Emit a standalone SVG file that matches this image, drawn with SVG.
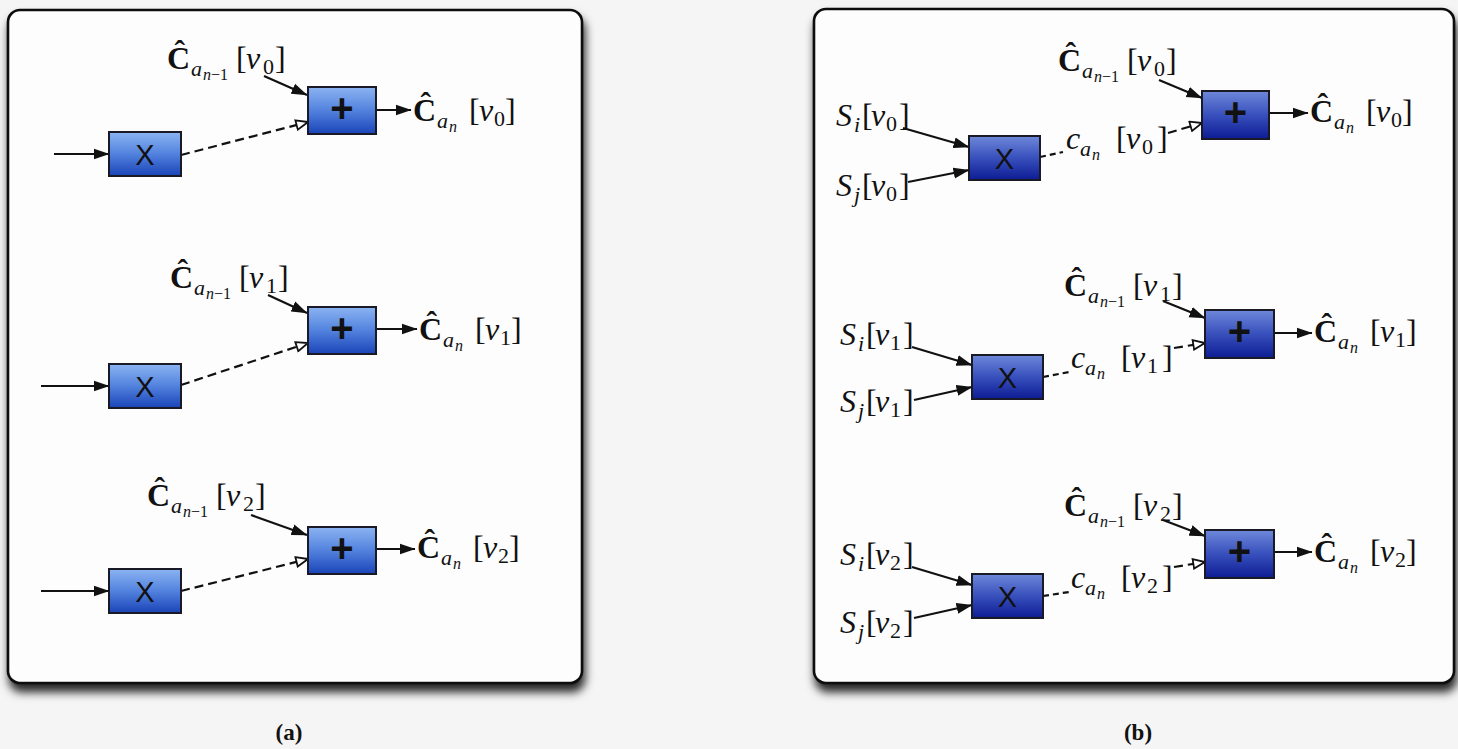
<svg xmlns="http://www.w3.org/2000/svg" width="1458" height="749" viewBox="0 0 1458 749">
<style>
.lbl{font-family:"Liberation Serif","DejaVu Serif",serif;font-size:32px;fill:#111}
.b{font-weight:bold}
.i{font-style:italic}
.s1{font-size:22px}
.s2{font-size:16px}
.panel{fill:#fdfdfd;stroke:#111;stroke-width:2.6}
.boxa{fill:url(#gA);stroke:#1a1a26;stroke-width:2}
.boxb{fill:url(#gB);stroke:#1a1a26;stroke-width:2}
.op{font-family:"Liberation Sans","DejaVu Sans",sans-serif;fill:#111;text-anchor:middle}
.x{font-size:29px}
.p{font-size:40px;font-weight:bold}
.sol{stroke:#111;stroke-width:2.2;fill:none;marker-end:url(#fa)}
.dsh{stroke:#111;stroke-width:2.2;fill:none;stroke-dasharray:9 5;marker-end:url(#oa)}
.dsh2{stroke:#111;stroke-width:2.2;fill:none;stroke-dasharray:6 4}
.cap{font-family:"Liberation Serif","DejaVu Serif",serif;font-size:23px;font-weight:bold;fill:#111;text-anchor:middle}
</style>
<defs>
<linearGradient id="gA" x1="0" y1="0" x2="0" y2="1">
<stop offset="0" stop-color="#8cb4f2"/><stop offset="0.5" stop-color="#5282de"/><stop offset="1" stop-color="#1a44b8"/>
</linearGradient>
<linearGradient id="gB" x1="0" y1="0" x2="0" y2="1">
<stop offset="0" stop-color="#6e88da"/><stop offset="0.5" stop-color="#3850bc"/><stop offset="1" stop-color="#0d1c94"/>
</linearGradient>
<marker id="fa" viewBox="0 0 16 12" refX="15.5" refY="6" markerWidth="16" markerHeight="12" markerUnits="userSpaceOnUse" orient="auto">
<path d="M0,0.5 L16,6 L0,11.5 z" fill="#111"/>
</marker>
<marker id="oa" viewBox="0 0 14 12" refX="13" refY="6" markerWidth="14" markerHeight="12" markerUnits="userSpaceOnUse" orient="auto">
<path d="M1.2,1.2 L13,6 L1.2,10.8 z" fill="#fff" stroke="#111" stroke-width="1.8"/>
</marker>
<filter id="sh" x="-5%" y="-5%" width="110%" height="115%">
<feDropShadow dx="2" dy="8" stdDeviation="5" flood-color="#000" flood-opacity="0.85"/>
</filter>
</defs>
<rect width="1458" height="749" fill="#f5f5f5"/>
<g id="panel-a"><rect class="panel" x="8" y="10" width="574" height="673" rx="12" filter="url(#sh)"/></g>
<g id="panel-b"><rect class="panel" x="814" y="9" width="640" height="674" rx="12" filter="url(#sh)"/></g>

<g id="connectors">
<line class="sol" x1="54" y1="154" x2="109" y2="154"/>
<line class="sol" x1="264" y1="76" x2="307" y2="95"/>
<line class="dsh" x1="181" y1="155" x2="308" y2="122"/>
<line class="sol" x1="376" y1="110" x2="411" y2="110"/>
<line class="sol" x1="41" y1="386" x2="109" y2="386"/>
<line class="sol" x1="268" y1="295" x2="307" y2="313"/>
<line class="dsh" x1="181" y1="385" x2="308" y2="343"/>
<line class="sol" x1="376" y1="329" x2="417" y2="329"/>
<line class="sol" x1="41" y1="591" x2="109" y2="591"/>
<line class="sol" x1="251" y1="515" x2="307" y2="535"/>
<line class="dsh" x1="181" y1="591" x2="308" y2="559"/>
<line class="sol" x1="376" y1="549" x2="415" y2="549"/>
<line class="sol" x1="903" y1="128" x2="969" y2="147"/>
<line class="sol" x1="908" y1="182" x2="969" y2="170"/>
<line class="dsh2" x1="1040" y1="157" x2="1063" y2="152"/>
<line class="dsh" x1="1168" y1="133" x2="1202" y2="123"/>
<line class="sol" x1="1159" y1="80" x2="1202" y2="98"/>
<line class="sol" x1="1269" y1="113" x2="1308" y2="113"/>
<line class="sol" x1="912" y1="347" x2="972" y2="365"/>
<line class="sol" x1="914" y1="400" x2="972" y2="387"/>
<line class="dsh2" x1="1043" y1="377" x2="1069" y2="372"/>
<line class="dsh" x1="1174" y1="348" x2="1205" y2="343"/>
<line class="sol" x1="1163" y1="301" x2="1205" y2="318"/>
<line class="sol" x1="1274" y1="333" x2="1312" y2="333"/>
<line class="sol" x1="912" y1="567" x2="972" y2="585"/>
<line class="sol" x1="914" y1="618" x2="972" y2="605"/>
<line class="dsh2" x1="1043" y1="596" x2="1069" y2="592"/>
<line class="dsh" x1="1174" y1="567" x2="1205" y2="562"/>
<line class="sol" x1="1163" y1="520" x2="1205" y2="536"/>
<line class="sol" x1="1274" y1="552" x2="1312" y2="552"/>
</g>

<g id="a-mul0"><rect class="boxa" x="109" y="132" width="72" height="44"/><text class="op x" x="145" y="165">X</text></g>
<g id="a-add0"><rect class="boxa" x="308" y="87" width="68" height="47"/><text class="op p" x="342" y="122">+</text></g>
<g id="a-mul1"><rect class="boxa" x="109" y="364" width="72" height="44"/><text class="op x" x="145" y="397">X</text></g>
<g id="a-add1"><rect class="boxa" x="308" y="307" width="68" height="47"/><text class="op p" x="342" y="342">+</text></g>
<g id="a-mul2"><rect class="boxa" x="109" y="569" width="72" height="44"/><text class="op x" x="145" y="602">X</text></g>
<g id="a-add2"><rect class="boxa" x="308" y="527" width="68" height="47"/><text class="op p" x="342" y="562">+</text></g>

<g id="b-mul0"><rect class="boxb" x="969" y="136" width="71" height="44"/><text class="op x" x="1004.5" y="169">X</text></g>
<g id="b-add0"><rect class="boxb" x="1202" y="91" width="67" height="48"/><text class="op p" x="1235.5" y="126">+</text></g>
<g id="b-mul1"><rect class="boxb" x="972" y="355" width="71" height="44"/><text class="op x" x="1007.5" y="388">X</text></g>
<g id="b-add1"><rect class="boxb" x="1205" y="310" width="69" height="48"/><text class="op p" x="1239.5" y="345">+</text></g>
<g id="b-mul2"><rect class="boxb" x="972" y="574" width="71" height="44"/><text class="op x" x="1007.5" y="607">X</text></g>
<g id="b-add2"><rect class="boxb" x="1205" y="530" width="69" height="48"/><text class="op p" x="1239.5" y="565">+</text></g>

<g id="a-in0"><text class="lbl"><tspan class="b" x="167" y="69">Ĉ</tspan><tspan class="i s1" x="191" y="76">a</tspan><tspan class="i s2" x="203" y="80">n</tspan><tspan class="s2" x="211" y="80">−1</tspan><tspan x="236" y="69">[</tspan><tspan class="i" x="246" y="69">v</tspan><tspan class="s1" x="263" y="74">0</tspan><tspan x="275" y="69">]</tspan></text></g>
<g id="a-out0"><text class="lbl"><tspan class="b" x="413" y="121">Ĉ</tspan><tspan class="i s1" x="437" y="128">a</tspan><tspan class="i s2" x="449" y="132">n</tspan><tspan x="469" y="121">[</tspan><tspan class="i" x="479" y="121">v</tspan><tspan class="s1" x="494" y="126">0</tspan><tspan x="505" y="121">]</tspan></text></g>
<g id="a-in1"><text class="lbl"><tspan class="b" x="170" y="288">Ĉ</tspan><tspan class="i s1" x="194" y="295">a</tspan><tspan class="i s2" x="206" y="299">n</tspan><tspan class="s2" x="214" y="299">−1</tspan><tspan x="239" y="288">[</tspan><tspan class="i" x="249" y="288">v</tspan><tspan class="s1" x="266" y="293">1</tspan><tspan x="278" y="288">]</tspan></text></g>
<g id="a-out1"><text class="lbl"><tspan class="b" x="419" y="340">Ĉ</tspan><tspan class="i s1" x="443" y="347">a</tspan><tspan class="i s2" x="455" y="351">n</tspan><tspan x="475" y="340">[</tspan><tspan class="i" x="485" y="340">v</tspan><tspan class="s1" x="500" y="345">1</tspan><tspan x="511" y="340">]</tspan></text></g>
<g id="a-in2"><text class="lbl"><tspan class="b" x="147" y="506">Ĉ</tspan><tspan class="i s1" x="171" y="513">a</tspan><tspan class="i s2" x="183" y="517">n</tspan><tspan class="s2" x="191" y="517">−1</tspan><tspan x="216" y="506">[</tspan><tspan class="i" x="226" y="506">v</tspan><tspan class="s1" x="243" y="511">2</tspan><tspan x="255" y="506">]</tspan></text></g>
<g id="a-out2"><text class="lbl"><tspan class="b" x="417" y="558">Ĉ</tspan><tspan class="i s1" x="441" y="565">a</tspan><tspan class="i s2" x="453" y="569">n</tspan><tspan x="473" y="558">[</tspan><tspan class="i" x="483" y="558">v</tspan><tspan class="s1" x="498" y="563">2</tspan><tspan x="509" y="558">]</tspan></text></g>

<g id="b-si0"><text class="lbl"><tspan class="i" x="836" y="126">S</tspan><tspan class="i s1" x="854" y="132">i</tspan><tspan x="862" y="126">[</tspan><tspan class="i" x="871" y="126">v</tspan><tspan class="s1" x="886" y="131">0</tspan><tspan x="899" y="126">]</tspan></text></g>
<g id="b-sj0"><text class="lbl"><tspan class="i" x="836" y="196">S</tspan><tspan class="i s1" x="854" y="202">j</tspan><tspan x="862" y="196">[</tspan><tspan class="i" x="871" y="196">v</tspan><tspan class="s1" x="886" y="201">0</tspan><tspan x="899" y="196">]</tspan></text></g>
<g id="b-c0"><text class="lbl"><tspan class="i" x="1066" y="149">c</tspan><tspan class="i s1" x="1080" y="156">a</tspan><tspan class="i s2" x="1092" y="160">n</tspan><tspan x="1116" y="149">[</tspan><tspan class="i" x="1126" y="149">v</tspan><tspan class="s1" x="1142" y="154">0</tspan><tspan x="1157" y="149">]</tspan></text></g>
<g id="b-in0"><text class="lbl"><tspan class="b" x="1058" y="71">Ĉ</tspan><tspan class="i s1" x="1082" y="78">a</tspan><tspan class="i s2" x="1094" y="82">n</tspan><tspan class="s2" x="1102" y="82">−1</tspan><tspan x="1127" y="71">[</tspan><tspan class="i" x="1137" y="71">v</tspan><tspan class="s1" x="1154" y="76">0</tspan><tspan x="1166" y="71">]</tspan></text></g>
<g id="b-out0"><text class="lbl"><tspan class="b" x="1310" y="122">Ĉ</tspan><tspan class="i s1" x="1334" y="129">a</tspan><tspan class="i s2" x="1346" y="133">n</tspan><tspan x="1366" y="122">[</tspan><tspan class="i" x="1376" y="122">v</tspan><tspan class="s1" x="1391" y="127">0</tspan><tspan x="1402" y="122">]</tspan></text></g>

<g id="b-si1"><text class="lbl"><tspan class="i" x="840" y="345">S</tspan><tspan class="i s1" x="858" y="351">i</tspan><tspan x="866" y="345">[</tspan><tspan class="i" x="875" y="345">v</tspan><tspan class="s1" x="890" y="350">1</tspan><tspan x="903" y="345">]</tspan></text></g>
<g id="b-sj1"><text class="lbl"><tspan class="i" x="840" y="412">S</tspan><tspan class="i s1" x="858" y="418">j</tspan><tspan x="866" y="412">[</tspan><tspan class="i" x="875" y="412">v</tspan><tspan class="s1" x="890" y="417">1</tspan><tspan x="903" y="412">]</tspan></text></g>
<g id="b-c1"><text class="lbl"><tspan class="i" x="1071" y="368">c</tspan><tspan class="i s1" x="1085" y="375">a</tspan><tspan class="i s2" x="1097" y="379">n</tspan><tspan x="1121" y="368">[</tspan><tspan class="i" x="1131" y="368">v</tspan><tspan class="s1" x="1147" y="373">1</tspan><tspan x="1162" y="368">]</tspan></text></g>
<g id="b-in1"><text class="lbl"><tspan class="b" x="1064" y="296">Ĉ</tspan><tspan class="i s1" x="1088" y="303">a</tspan><tspan class="i s2" x="1100" y="307">n</tspan><tspan class="s2" x="1108" y="307">−1</tspan><tspan x="1133" y="296">[</tspan><tspan class="i" x="1143" y="296">v</tspan><tspan class="s1" x="1160" y="301">1</tspan><tspan x="1172" y="296">]</tspan></text></g>
<g id="b-out1"><text class="lbl"><tspan class="b" x="1314" y="342">Ĉ</tspan><tspan class="i s1" x="1338" y="349">a</tspan><tspan class="i s2" x="1350" y="353">n</tspan><tspan x="1370" y="342">[</tspan><tspan class="i" x="1380" y="342">v</tspan><tspan class="s1" x="1395" y="347">1</tspan><tspan x="1406" y="342">]</tspan></text></g>

<g id="b-si2"><text class="lbl"><tspan class="i" x="840" y="565">S</tspan><tspan class="i s1" x="858" y="571">i</tspan><tspan x="866" y="565">[</tspan><tspan class="i" x="875" y="565">v</tspan><tspan class="s1" x="890" y="570">2</tspan><tspan x="903" y="565">]</tspan></text></g>
<g id="b-sj2"><text class="lbl"><tspan class="i" x="840" y="633">S</tspan><tspan class="i s1" x="858" y="639">j</tspan><tspan x="866" y="633">[</tspan><tspan class="i" x="875" y="633">v</tspan><tspan class="s1" x="890" y="638">2</tspan><tspan x="903" y="633">]</tspan></text></g>
<g id="b-c2"><text class="lbl"><tspan class="i" x="1071" y="588">c</tspan><tspan class="i s1" x="1085" y="595">a</tspan><tspan class="i s2" x="1097" y="599">n</tspan><tspan x="1121" y="588">[</tspan><tspan class="i" x="1131" y="588">v</tspan><tspan class="s1" x="1147" y="593">2</tspan><tspan x="1162" y="588">]</tspan></text></g>
<g id="b-in2"><text class="lbl"><tspan class="b" x="1064" y="516">Ĉ</tspan><tspan class="i s1" x="1088" y="523">a</tspan><tspan class="i s2" x="1100" y="527">n</tspan><tspan class="s2" x="1108" y="527">−1</tspan><tspan x="1133" y="516">[</tspan><tspan class="i" x="1143" y="516">v</tspan><tspan class="s1" x="1160" y="521">2</tspan><tspan x="1172" y="516">]</tspan></text></g>
<g id="b-out2"><text class="lbl"><tspan class="b" x="1314" y="562">Ĉ</tspan><tspan class="i s1" x="1338" y="569">a</tspan><tspan class="i s2" x="1350" y="573">n</tspan><tspan x="1370" y="562">[</tspan><tspan class="i" x="1380" y="562">v</tspan><tspan class="s1" x="1395" y="567">2</tspan><tspan x="1406" y="562">]</tspan></text></g>

<g id="captions">
<text class="cap" x="289" y="740">(a)</text>
<text class="cap" x="1138" y="740">(b)</text>
</g>
</svg>
